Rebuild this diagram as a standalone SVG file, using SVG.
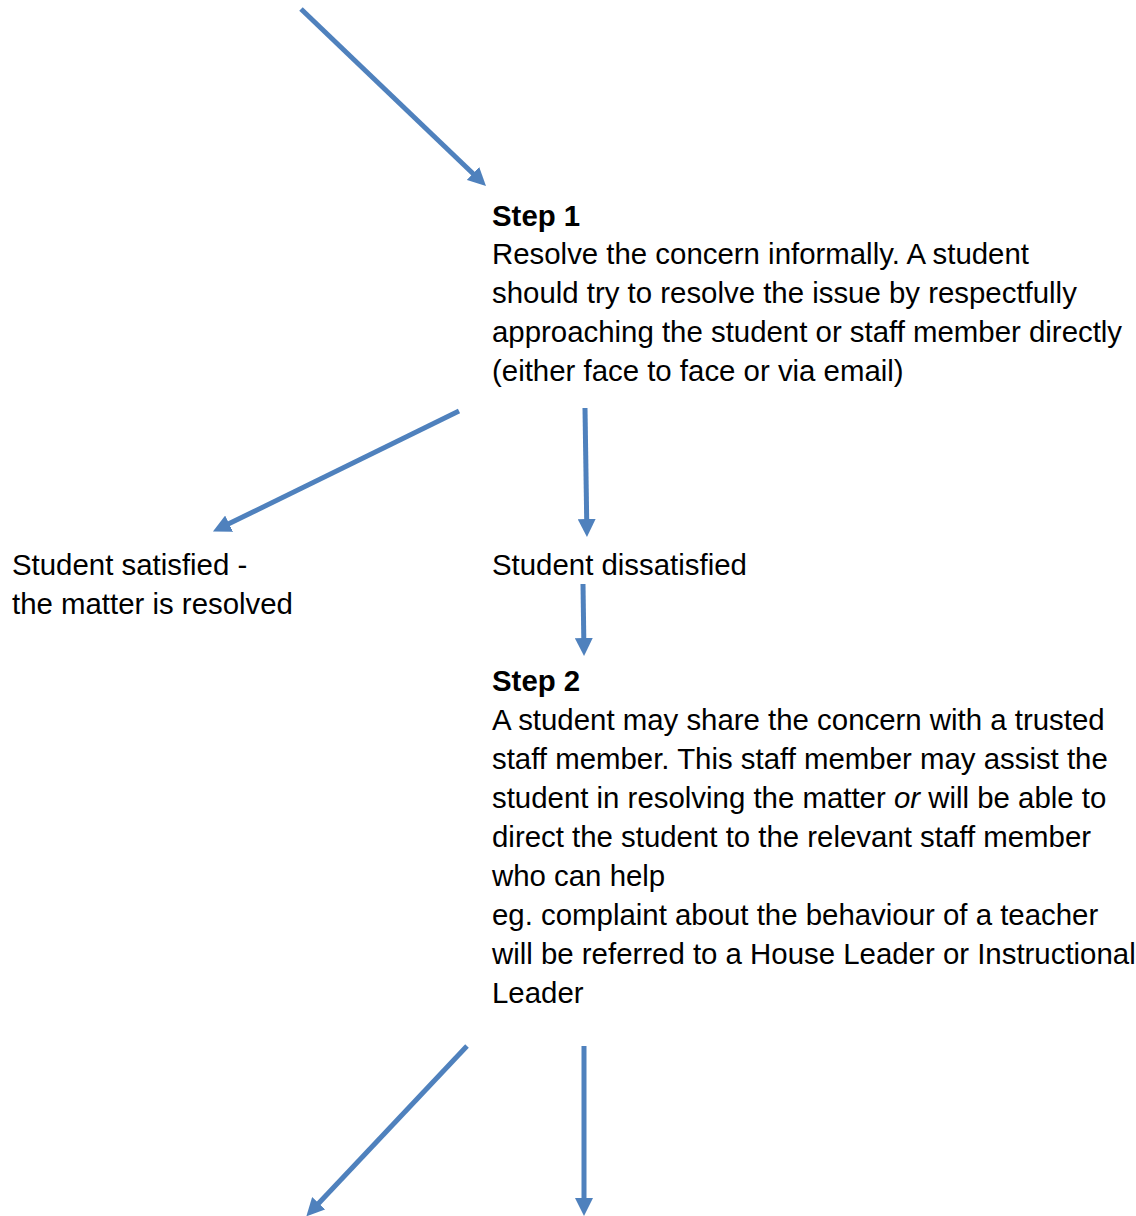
<svg xmlns="http://www.w3.org/2000/svg" width="1136" height="1216" viewBox="0 0 1136 1216">
<style>
  text { font-family: "Liberation Sans", Arial, sans-serif; font-size: 29.4px; fill: #000; }
  .b { font-weight: bold; }
  .arr { stroke: #4f81bd; stroke-width: 5; fill: none; marker-end: url(#ah); }
</style>
<defs>
  <marker id="ah" viewBox="0 0 18 18" refX="1" refY="9" markerWidth="18" markerHeight="18" markerUnits="userSpaceOnUse" orient="auto">
    <path d="M0,0 L18,9 L0,18 z" fill="#4f81bd"/>
  </marker>
</defs>
<rect width="1136" height="1216" fill="#fff"/>
<g id="connectors">
  <line class="arr" x1="301" y1="9" x2="473.7" y2="174.2"/>
  <line class="arr" x1="459" y1="411" x2="228.2" y2="524.1"/>
  <line class="arr" x1="585" y1="408" x2="586.7" y2="520"/>
  <line class="arr" x1="583" y1="584" x2="583.8" y2="639"/>
  <line class="arr" x1="467" y1="1046" x2="318" y2="1204"/>
  <line class="arr" x1="584" y1="1046" x2="584" y2="1199"/>
</g>
<g id="step1">
  <text x="492" y="226" class="b">Step 1</text>
  <text x="492" y="264">Resolve the concern informally. A student</text>
  <text x="492" y="303">should try to resolve the issue by respectfully</text>
  <text x="492" y="342">approaching the student or staff member directly</text>
  <text x="492" y="381">(either face to face or via email)</text>
</g>
<g id="satisfied">
  <text x="12" y="575">Student satisfied -</text>
  <text x="12" y="614">the matter is resolved</text>
</g>
<g id="dissatisfied">
  <text x="492" y="575">Student dissatisfied</text>
</g>
<g id="step2">
  <text x="492" y="691" class="b">Step 2</text>
  <text x="492" y="730">A student may share the concern with a trusted</text>
  <text x="492" y="769">staff member. This staff member may assist the</text>
  <text x="492" y="808">student in resolving the matter <tspan font-style="italic">or</tspan> will be able to</text>
  <text x="492" y="847">direct the student to the relevant staff member</text>
  <text x="492" y="886">who can help</text>
  <text x="492" y="925">eg. complaint about the behaviour of a teacher</text>
  <text x="492" y="964">will be referred to a House Leader or Instructional</text>
  <text x="492" y="1003">Leader</text>
</g>
</svg>
